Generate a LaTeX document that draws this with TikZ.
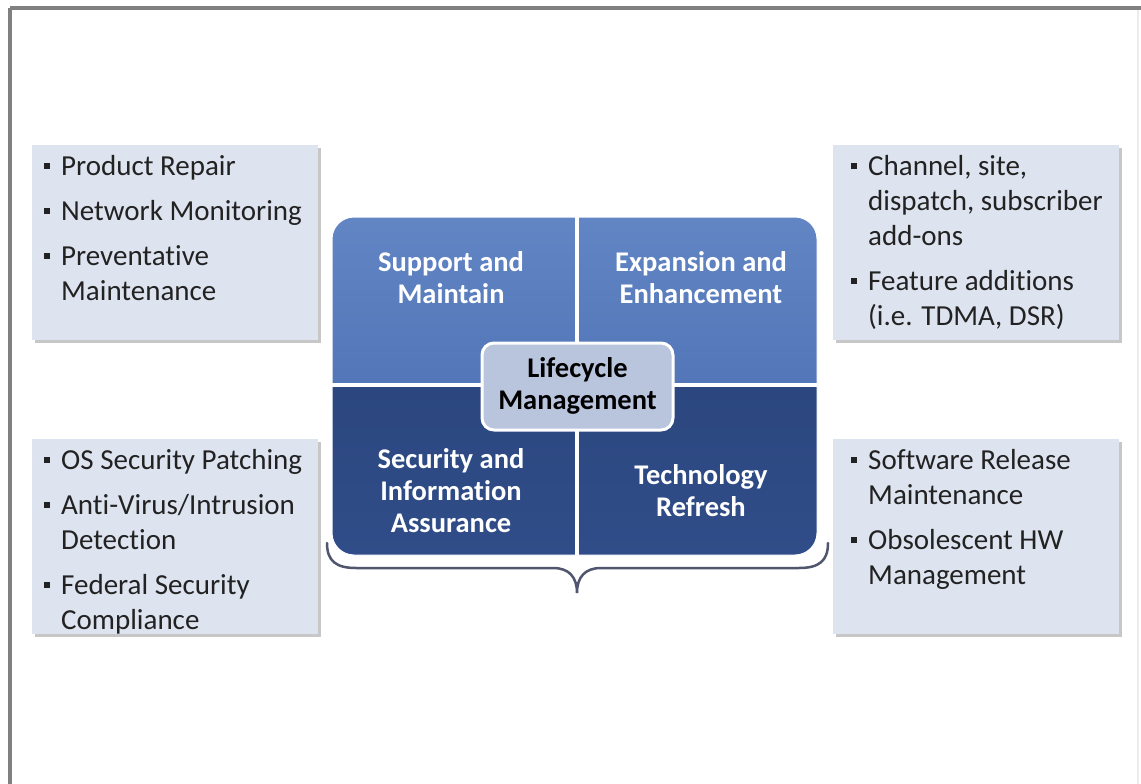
\documentclass[tikz,border=0pt]{standalone}
\usepackage{fontspec}
\setmainfont[Ligatures=NoCommon]{Carlito}
\usetikzlibrary{shadows}
\definecolor{boxfill}{HTML}{DDE3EF}
\definecolor{midtop}{HTML}{6285C4}
\definecolor{midbot}{HTML}{5276B8}
\definecolor{navytop}{HTML}{2C477F}
\definecolor{navybot}{HTML}{304D89}
\definecolor{lcfill}{HTML}{B9C4DD}
\definecolor{bracecol}{HTML}{4F566E}
\definecolor{framecol}{HTML}{808080}
\definecolor{txt}{HTML}{222222}
\newcommand\bsq{\makebox[17pt][l]{\rule[6pt]{6pt}{6pt}}}
\newcommand\ind{\hspace*{17pt}}
\begin{document}
\begin{tikzpicture}[x=1pt,y=-1pt,
  infobox/.style={fill=boxfill, draw=none, anchor=north west, inner sep=0pt,
    drop shadow={shadow xshift=3pt, shadow yshift=-3pt, opacity=0.55, fill=gray!80}},
  listtext/.style={anchor=base west, inner sep=0pt, align=left, text=txt,
    font=\fontsize{29}{35}\selectfont},
  quadtext/.style={anchor=base, inner sep=0pt, align=center, text=white,
    font=\fontsize{28.5}{32}\selectfont\bfseries},
  lcbox/.style={fill=lcfill, draw=white, line width=3pt, rounded corners=12pt,
    minimum width=191pt, minimum height=87pt, inner sep=0pt},
  bracestyle/.style={draw=bracecol, line width=2.5pt, line cap=round}
]
\useasboundingbox (0,0) rectangle (1141,784);
\fill[white] (0,0) rectangle (1141,784);
% frame
\draw[framecol, line width=3.5pt] (10,8) -- (1141,8);
\draw[framecol, line width=3.5pt] (10,8) -- (10,784);
\draw[gray!15, line width=1.5pt] (1138,10) -- (1138,784);

% information boxes
\node[infobox, minimum width=286pt, minimum height=195pt] (lt) at (32,145) {};
\node[infobox, minimum width=286pt, minimum height=195pt] (rt) at (833,145) {};
\node[infobox, minimum width=286pt, minimum height=195pt] (lb) at (32,439) {};
\node[infobox, minimum width=286pt, minimum height=195pt] (rb) at (833,439) {};

% (base anchor = baseline of last line)
\node[listtext] (ltt) at (44,300) {\bsq Product Repair\\[10pt]
  \bsq Network Monitoring\\[10pt]
  \bsq Preventative\\
  \ind Maintenance};
\node[listtext] (rtt) at (851,325) {\bsq Channel, site,\\
  \ind dispatch, subscriber\\
  \ind add-ons\\[10pt]
  \bsq Feature additions\\
  \ind (i.e. TDMA, DSR)};
\node[listtext] (lbt) at (44,629) {\bsq OS Security Patching\\[10pt]
  \bsq Anti-Virus/Intrusion\\
  \ind Detection\\[10pt]
  \bsq Federal Security\\
  \ind Compliance};
\node[listtext] (rbt) at (851,584) {\bsq Software Release\\
  \ind Maintenance\\[10pt]
  \bsq Obsolescent HW\\
  \ind Management};

% quadrant matrix
\begin{scope}
  \clip[rounded corners=22pt] (332,217) rectangle (817,555);
  \shade[top color=navytop, bottom color=navybot] (332,385) rectangle (817,555);
  \shade[top color=midtop, bottom color=midbot] (332,217) rectangle (817,385);
\end{scope}
\draw[white, line width=4pt] (577,217) -- (577,555);
\draw[white, line width=4pt] (332,385) -- (817,385);
\draw[white, line width=1pt, rounded corners=22pt] (332,217) rectangle (817,555);

\node[quadtext] (q1) at (451,303) {Support and\\Maintain};
\node[quadtext] (q2) at (701,303) {Expansion and\\Enhancement};
\node[quadtext] (q3) at (451,532) {Security and\\Information\\Assurance};
\node[quadtext] (q4) at (701,516) {Technology\\Refresh};

\node[lcbox] (lc) at (577.5,386.5) {};
\node[quadtext, text=black] (lct) at (577.5,409) {Lifecycle\\Management};

% brace
\draw[bracestyle] (327,543) .. controls (327,561) and (336,568) .. (356,568)
  -- (553,568) .. controls (569,568) and (577,577) .. (577,593)
  .. controls (577,577) and (585,568) .. (601,568)
  -- (799,568) .. controls (819,568) and (828,561) .. (828,543);
\end{tikzpicture}
\end{document}
